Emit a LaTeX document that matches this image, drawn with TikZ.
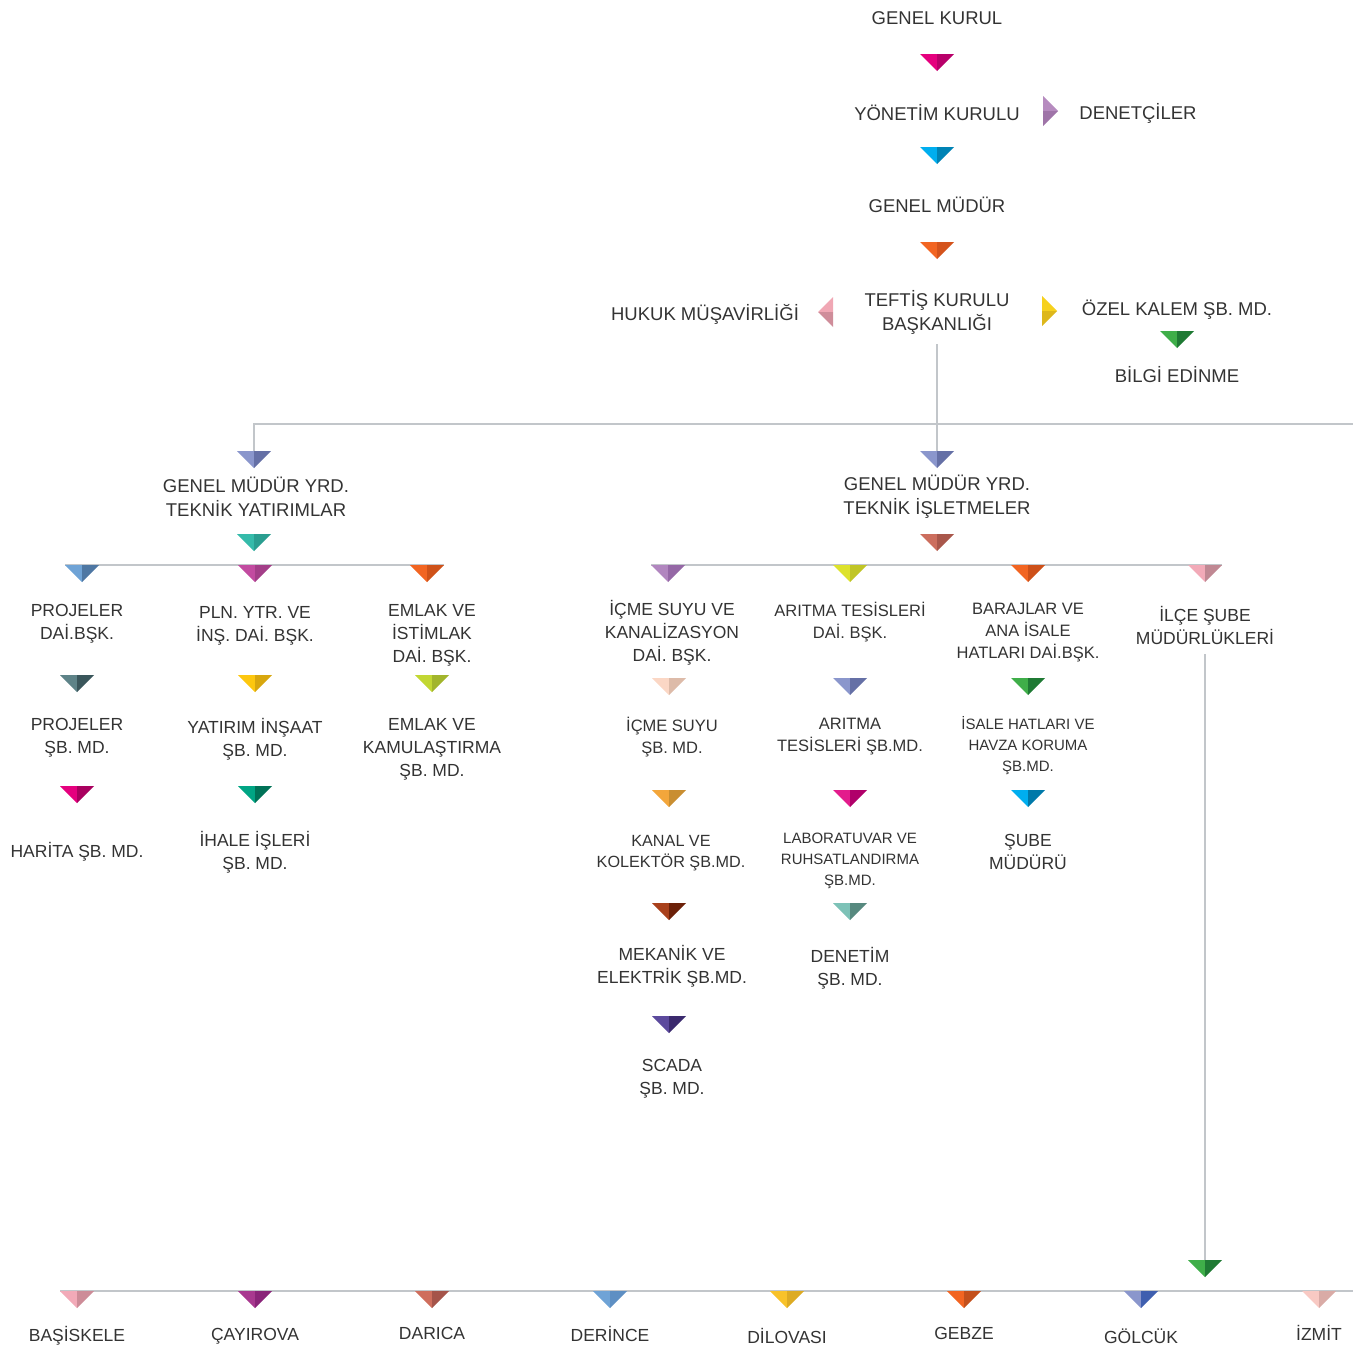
\documentclass[tikz,border=0pt]{standalone}
\usepackage{fontspec}
\setmainfont{Liberation Sans}
\usepackage{tikz}
\definecolor{txt}{HTML}{333333}
\definecolor{linegray}{HTML}{C2C6CA}
\tikzstyle{lbl}=[align=center, inner sep=0pt, text=txt, font=\fontsize{17.5}{23}\selectfont]
\tikzstyle{big}=[font=\fontsize{18.5}{24}\selectfont]
\tikzstyle{mid}=[font=\fontsize{16.5}{22}\selectfont]
\tikzstyle{small}=[font=\fontsize{15}{21}\selectfont]
\tikzstyle{conn}=[draw=linegray, line width=1.6pt]
% x, top y, light half, dark half
\newcommand{\dtri}[4]{%
  \definecolor{tl}{HTML}{#3}\definecolor{td}{HTML}{#4}%
  \fill[tl] (#1-17,#2) -- (#1,#2) -- (#1,#2+17) -- cycle;
  \fill[td] (#1,#2) -- (#1+17,#2) -- (#1,#2+17) -- cycle;}
\newcommand{\rtri}[4]{%
  \definecolor{tl}{HTML}{#3}\definecolor{td}{HTML}{#4}%
  \fill[tl] (#1,#2-15) -- (#1+15,#2) -- (#1,#2) -- cycle;
  \fill[td] (#1,#2) -- (#1+15,#2) -- (#1,#2+15) -- cycle;}
\newcommand{\ltri}[4]{%
  \definecolor{tl}{HTML}{#3}\definecolor{td}{HTML}{#4}%
  \fill[tl] (#1,#2-15) -- (#1-15,#2) -- (#1,#2) -- cycle;
  \fill[td] (#1,#2) -- (#1-15,#2) -- (#1,#2+15) -- cycle;}
\begin{document}
\begin{tikzpicture}[x=1pt, y=-1pt]
  \useasboundingbox (0,0) rectangle (1353,1349);
  % top column
  \node[lbl,big] (kurul) at (937,18) {GENEL KURUL};
  \node[lbl,big] (yonetim) at (937,113) {YÖNETİM KURULU};
  \node[lbl,big] (denet) at (1138,113) {DENETÇİLER};
  \node[lbl,big] (mudur) at (937,205) {GENEL MÜDÜR};
  \node[lbl,big] (teftis) at (937,312) {TEFTİŞ KURULU\\BAŞKANLIĞI};
  \node[lbl,big] (hukuk) at (705,314) {HUKUK MÜŞAVİRLİĞİ};
  \node[lbl,big] (ozel) at (1177,310) {ÖZEL KALEM ŞB. MD.};
  \node[lbl,big] (bilgi) at (1177,375) {BİLGİ EDİNME};
  \node[lbl,big] (gmyYat) at (256,497) {GENEL MÜDÜR YRD.\\TEKNİK YATIRIMLAR};
  \node[lbl,big] (gmyIsl) at (937,497) {GENEL MÜDÜR YRD.\\TEKNİK İŞLETMELER};
  % teknik yatirimlar
  \node[lbl] (projDai) at (77,624) {PROJELER\\DAİ.BŞK.};
  \node[lbl] (plnDai) at (255,626) {PLN. YTR. VE\\İNŞ. DAİ. BŞK.};
  \node[lbl] (emlakDai) at (432,635) {EMLAK VE\\İSTİMLAK\\DAİ. BŞK.};
  \node[lbl] (projSb) at (77,738) {PROJELER\\ŞB. MD.};
  \node[lbl] (yatirimSb) at (255,739) {YATIRIM İNŞAAT\\ŞB. MD.};
  \node[lbl] (emlakSb) at (432,749) {EMLAK VE\\KAMULAŞTIRMA\\ŞB. MD.};
  \node[lbl] (haritaSb) at (77,852) {HARİTA ŞB. MD.};
  \node[lbl] (ihaleSb) at (255,852) {İHALE İŞLERİ\\ŞB. MD.};
  % teknik isletmeler
  \node[lbl] (icmeDai) at (672,633) {İÇME SUYU VE\\KANALİZASYON\\DAİ. BŞK.};
  \node[lbl,mid] (arDai) at (850,622) {ARITMA TESİSLERİ\\DAİ. BŞK.};
  \node[lbl,mid] (barajDai) at (1028,633) {BARAJLAR VE\\ANA İSALE\\HATLARI DAİ.BŞK.};
  \node[lbl] (ilce) at (1205,625) {İLÇE ŞUBE\\MÜDÜRLÜKLERİ};
  \node[lbl,mid] (icmeSb) at (672,737) {İÇME SUYU\\ŞB. MD.};
  \node[lbl,mid] (arSb) at (850,737) {ARITMA\\TESİSLERİ ŞB.MD.};
  \node[lbl,small] (isaleSb) at (1028,746) {İSALE HATLARI VE\\HAVZA KORUMA\\ŞB.MD.};
  \node[lbl,mid,font=\fontsize{16.2}{21}\selectfont] (kanalSb) at (671,853) {KANAL VE\\KOLEKTÖR ŞB.MD.};
  \node[lbl,small] (labSb) at (850,861) {LABORATUVAR VE\\RUHSATLANDIRMA\\ŞB.MD.};
  \node[lbl] (subeMd) at (1028,852) {ŞUBE\\MÜDÜRÜ};
  \node[lbl] (mekanikSb) at (672,966) {MEKANİK VE\\ELEKTRİK ŞB.MD.};
  \node[lbl] (denetimSb) at (850,968) {DENETİM\\ŞB. MD.};
  \node[lbl] (scadaSb) at (672,1079) {SCADA\\ŞB. MD.};
  % ilceler
  \node[lbl] (basiskele) at (77,1336) {BAŞİSKELE};
  \node[lbl] (cayirova) at (255,1336) {ÇAYIROVA};
  \node[lbl] (darica) at (432,1333) {DARICA};
  \node[lbl] (derince) at (610,1334) {DERİNCE};
  \node[lbl] (dilovasi) at (787,1336) {DİLOVASI};
  \node[lbl] (gebze) at (964,1333) {GEBZE};
  \node[lbl] (golcuk) at (1141,1336) {GÖLCÜK};
  \node[lbl] (izmit) at (1319,1333) {İZMİT};
  % connectors
  \coordinate (tYat) at (254,451);
  \coordinate (tIsl) at (937,451);
  \coordinate (redge) at (1353,424);
  \coordinate (tIlce) at (1205,1260);
  \coordinate (yatL) at (65,565);
  \coordinate (yatR) at (444,565);
  \coordinate (islL) at (651,565);
  \coordinate (islR) at (1222,565);
  \coordinate (ilcL) at (60,1291);
  \coordinate (ilcR) at (1353,1291);
  \draw[conn, shorten <=10pt] (teftis) -- (tIsl);
  \draw[conn] (redge) -| (tYat);
  \draw[conn, shorten <=10pt] (ilce) -- (tIlce);
  \draw[conn] (yatL) -- (yatR);
  \draw[conn] (islL) -- (islR);
  \draw[conn] (ilcL) -- (ilcR);
  % markers
  \dtri{937}{54}{E5007E}{B8006A}
  \rtri{1043}{111}{B68BBF}{9F74A8}
  \dtri{937}{147}{00AEEF}{0083B5}
  \dtri{937}{242}{F26522}{D4531C}
  \ltri{833}{312}{F0A7B4}{CF8D9A}
  \rtri{1042}{311}{F6D11E}{DDB71B}
  \dtri{1177}{331}{3FAE49}{1F7A34}
  \dtri{254}{451}{8A96CC}{6570A6}
  \dtri{937}{451}{8A96CC}{6570A6}
  \dtri{254}{534}{35BBAA}{2A9E90}
  \dtri{937}{534}{CC6E5E}{A9574B}
  \dtri{82}{565}{6FA3D6}{4E77A3}
  \dtri{255}{565}{C24BA0}{A33E88}
  \dtri{427}{565}{F26522}{CF5219}
  \dtri{77}{675}{5E8388}{3A565B}
  \dtri{255}{675}{FDC70F}{D8A70E}
  \dtri{432}{675}{C2D733}{A2B52C}
  \dtri{77}{786}{E5007E}{A9005F}
  \dtri{255}{786}{00A584}{007257}
  \dtri{668}{565}{B186BF}{9568A6}
  \dtri{850}{565}{DDE22C}{C0C526}
  \dtri{1028}{565}{F26522}{CD5019}
  \dtri{1205}{565}{F2AAB8}{C08893}
  \dtri{669}{678}{FBD7C5}{DDBBA9}
  \dtri{850}{678}{8A96CC}{6570A6}
  \dtri{1028}{678}{3FAE49}{1F7A34}
  \dtri{669}{790}{F3A63B}{C98E31}
  \dtri{850}{790}{E31C8C}{B0006A}
  \dtri{1028}{790}{00AEEF}{0079A9}
  \dtri{669}{903}{A9411C}{6C2109}
  \dtri{850}{903}{7DC2B7}{57897F}
  \dtri{669}{1016}{5C4A9D}{3B2A6E}
  \dtri{1205}{1260}{3FAE49}{1F7A34}
  \dtri{77}{1291}{F2AAB8}{CD8C98}
  \dtri{255}{1291}{A8388F}{8A2479}
  \dtri{432}{1291}{CF6E5D}{A5544A}
  \dtri{610}{1291}{6FA3D6}{5E8FC3}
  \dtri{787}{1291}{F8C22A}{DDAB24}
  \dtri{964}{1291}{F26522}{C3501C}
  \dtri{1141}{1291}{8A96CC}{3F5FAF}
  \dtri{1319}{1291}{F8C9C3}{D9ABA6}
\end{tikzpicture}
\end{document}
